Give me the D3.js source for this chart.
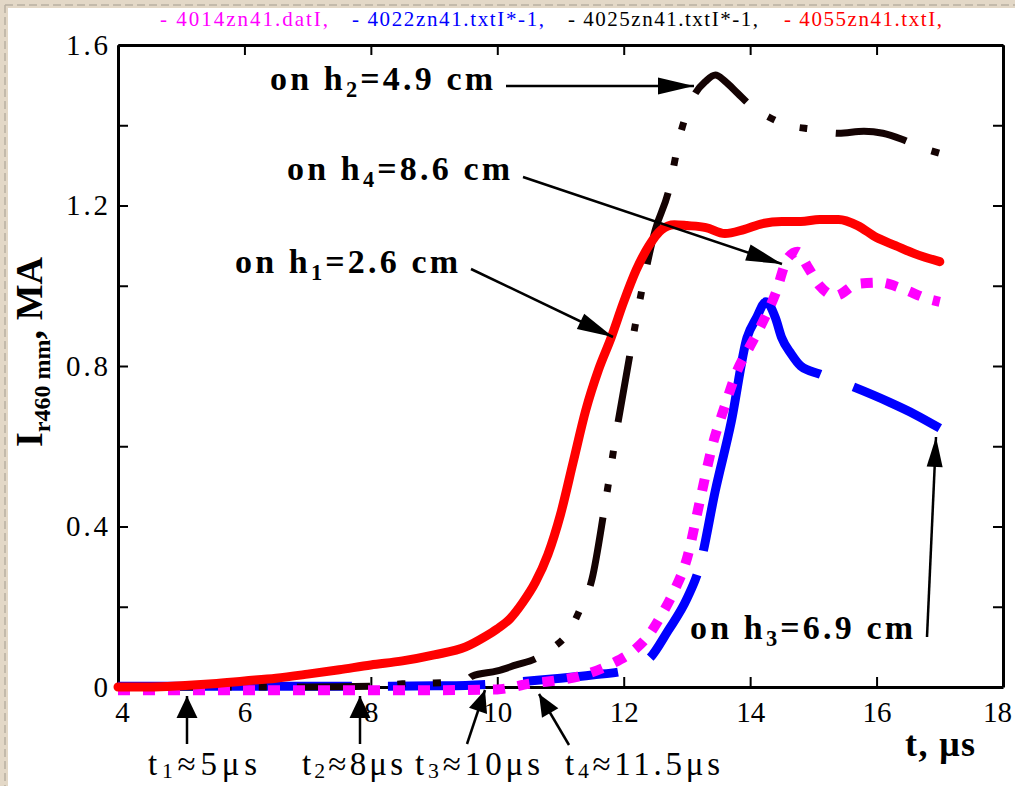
<!DOCTYPE html>
<html><head><meta charset="utf-8">
<script src="https://cdn.jsdelivr.net/npm/d3@7"></script>
<style>
html,body{margin:0;padding:0;background:#fff;}
svg{display:block;}
text{font-family:"Liberation Serif","Times New Roman",serif;}
</style></head>
<body>
<svg id="chart" width="1015" height="786"></svg>
<script>
// ---------------- data ----------------
const legendLabels = ["- 4014zn41.datI,", "- 4022zn41.txtI*-1,", "- 4025zn41.txtI*-1,", "- 4055zn41.txtI,"];

const magentaT = [4, 5, 6, 7, 8, 9, 10, 10.5, 11, 11.3, 11.8, 12.15, 12.4, 12.6, 12.8, 13.0, 13.2, 13.4, 13.6, 13.8, 14.0, 14.2, 14.4, 14.6, 14.75, 14.9, 15.1, 15.35, 15.7, 16.05, 16.4, 16.8, 17];
const magentaV = [-0.008, -0.008, -0.008, -0.008, -0.008, -0.008, -0.006, 0.008, 0.018, 0.027, 0.057, 0.09, 0.13, 0.18, 0.24, 0.32, 0.46, 0.6, 0.7, 0.79, 0.85, 0.91, 0.98, 1.07, 1.085, 1.05, 1.0, 0.975, 1.005, 1.008, 0.993, 0.968, 0.96];

const blueT = [4, 5, 6, 7, 8, 9, 9.5, 10, 10.5, 11, 11.5, 12, 12.4, 12.7, 13.0, 13.2, 13.45, 13.7, 13.95, 14.1, 14.25, 14.4, 14.5, 14.65, 14.8, 15.1, 15.6, 16.2, 16.6, 17];
const blueV = [0.002, 0.002, 0.002, 0.002, 0.002, 0.003, 0.004, 0.008, 0.015, 0.022, 0.03, 0.04, 0.07, 0.14, 0.22, 0.3, 0.49, 0.66, 0.87, 0.92, 0.96, 0.92, 0.87, 0.83, 0.8, 0.78, 0.75, 0.71, 0.68, 0.645];
// visible breaks in the long-dashed blue trace (t intervals)
const blueGaps = [[7.70, 8.27], [9.81, 10.41], [11.91, 12.42], [13.16, 13.26], [15.11, 15.63]];

const blackT = [4, 5, 6, 7, 8, 8.5, 9, 9.5, 9.6, 10, 10.3, 10.6, 10.9, 11.1, 11.3, 11.5, 11.7, 11.9, 12.1, 12.3, 12.5, 12.7, 12.9, 13.1, 13.3, 13.45, 13.6, 13.8, 14.0, 14.3, 14.6, 15.0, 15.4, 15.8, 16.1, 16.4, 16.7, 17];
const blackV = [0, 0, 0, 0, 0.002, 0.008, 0.01, 0.015, 0.027, 0.04, 0.055, 0.07, 0.1, 0.13, 0.19, 0.27, 0.45, 0.65, 0.83, 1.0, 1.14, 1.23, 1.38, 1.47, 1.51, 1.525, 1.51, 1.48, 1.45, 1.42, 1.4, 1.39, 1.38, 1.385, 1.38, 1.365, 1.345, 1.33];
// t where each long dash of the dash-dot-dot black trace begins
const blackDashStarts = [4.1, 6.83, 9.57, 11.47, 11.91, 12.37, 13.13, 15.35];

const redT = [4, 4.5, 5, 5.5, 6, 6.5, 7, 7.5, 8, 8.5, 9, 9.5, 9.8, 10.0, 10.2, 10.4, 10.6, 10.8, 11.0, 11.2, 11.4, 11.6, 11.8, 12.0, 12.2, 12.4, 12.6, 12.8, 13.0, 13.3, 13.6, 13.9, 14.2, 14.5, 14.8, 15.1, 15.4, 15.7, 16, 16.3, 16.6, 17];
const redV = [0, 0, 0.003, 0.008, 0.015, 0.022, 0.032, 0.043, 0.055, 0.065, 0.08, 0.1, 0.125, 0.145, 0.17, 0.21, 0.26, 0.33, 0.43, 0.56, 0.69, 0.79, 0.87, 0.96, 1.04, 1.1, 1.14, 1.152, 1.15, 1.145, 1.13, 1.14, 1.155, 1.16, 1.16, 1.165, 1.165, 1.15, 1.12, 1.1, 1.08, 1.06];

const xTicks = [4, 6, 8, 10, 12, 14, 16, 18];
const yTicks = [0, 0.4, 0.8, 1.2, 1.6];
const yMinorTicks = [0.2, 0.6, 1.0, 1.4];
const yTickLabels = ["0", "0.4", "0.8", "1.2", "1.6"];

const heightLabels = [["on h", "2", "=4.9 cm"], ["on h", "4", "=8.6 cm"], ["on h", "1", "=2.6 cm"], ["on h", "3", "=6.9 cm"]];
const timeLabels = [["t", "1", "≈5μs"], ["t", "2", "≈8μs"], ["t", "3", "≈10μs"], ["t", "4", "≈11.5μs"]];

// ---------------- setup ----------------
const svg = d3.select("#chart");
const W = 1015, H = 786;
const L = 118, R = 1003, T = 45, B = 687;
const x = d3.scaleLinear().domain([4, 18]).range([L, R]);
const y = d3.scaleLinear().domain([0, 1.6]).range([B, T]);

// page frame
svg.append("rect").attr("width", W).attr("height", H).attr("fill", "#e3d8c7");
svg.append("rect").attr("x", 8).attr("y", 8).attr("width", W - 8).attr("height", H - 8).attr("fill", "#fff");
svg.append("line").attr("x1", 5).attr("x2", 5).attr("y1", 5).attr("y2", H)
  .attr("stroke", "#b9b0a2").attr("stroke-width", 1.5).attr("stroke-dasharray", "8,4");
svg.append("line").attr("x1", 5).attr("x2", W).attr("y1", 5).attr("y2", 5)
  .attr("stroke", "#b9b0a2").attr("stroke-width", 1.5).attr("stroke-dasharray", "8,4");

// legend
const legendColors = ["#ff00ff", "#0000ff", "#000000", "#ff0000"];
const legendX = [160, 352, 568, 784];
const legendLen = [168, 192, 190, 158];
svg.append("g").selectAll("text").data(legendLabels).join("text")
  .attr("x", (d, i) => legendX[i]).attr("y", 26)
  .attr("font-size", 21).attr("fill", (d, i) => legendColors[i])
  .attr("textLength", (d, i) => legendLen[i]).attr("lengthAdjust", "spacing")
  .text(d => d);

// ---------------- axes ----------------
const allY = yTicks.concat(yMinorTicks);
function styleAxis(g) {
  g.attr("font-family", null);
  g.select(".domain").attr("stroke", "#000").attr("stroke-width", 3);
  g.selectAll(".tick line").attr("stroke", "#000").attr("stroke-width", 2);
}
const fmtY = v => { const i = yTicks.indexOf(v); return i >= 0 ? yTickLabels[i] : ""; };

const gx = svg.append("g").attr("transform", `translate(0,${B})`)
  .call(d3.axisBottom(x).tickValues(xTicks).tickSizeInner(-10).tickSizeOuter(0).tickPadding(14).tickFormat(d3.format("d")));
styleAxis(gx);
gx.selectAll(".tick text").attr("font-size", 29).attr("fill", "#000")
  .attr("dx", (d) => d === 4 ? 4 : (d === 18 ? -6 : 0));

const gxt = svg.append("g").attr("transform", `translate(0,${T})`)
  .call(d3.axisTop(x).tickValues(xTicks).tickSizeInner(-10).tickSizeOuter(0).tickFormat(""));
styleAxis(gxt);

const gy = svg.append("g").attr("transform", `translate(${L},0)`)
  .call(d3.axisLeft(y).tickValues(allY).tickSizeInner(-10).tickSizeOuter(0).tickPadding(10).tickFormat(fmtY));
styleAxis(gy);
gy.selectAll(".tick text").attr("font-size", 29).attr("fill", "#000")
  .attr("textLength", d => fmtY(d).length > 1 ? 42 : null).attr("lengthAdjust", "spacing");

const gyr = svg.append("g").attr("transform", `translate(${R},0)`)
  .call(d3.axisRight(y).tickValues(allY).tickSizeInner(-10).tickSizeOuter(0).tickFormat(""));
styleAxis(gyr);

// ---------------- series ----------------
const line = d3.line().x(d => x(d[0])).y(d => y(d[1])).curve(d3.curveMonotoneX);
const zip = (a, b) => a.map((t, i) => [t, b[i]]);
const plot = svg.append("g");

function lengthFinder(node) {
  const total = node.getTotalLength();
  return t => {
    const px = x(t); let lo = 0, hi = total;
    for (let k = 0; k < 40; k++) { const m = (lo + hi) / 2; if (node.getPointAtLength(m).x < px) lo = m; else hi = m; }
    return (lo + hi) / 2;
  };
}

const bluePath = plot.append("path").datum(zip(blueT, blueV)).attr("d", line)
  .attr("fill", "none").attr("stroke", "#0000ff").attr("stroke-width", 9);
(function () {
  const node = bluePath.node(), total = node.getTotalLength(), lenAt = lengthFinder(node);
  const cuts = [];
  blueGaps.forEach(g => { cuts.push(lenAt(g[0]), lenAt(g[1])); });
  const dash = []; let prev = 0;
  cuts.forEach(c => { dash.push(Math.max(0.01, c - prev)); prev = c; });
  dash.push(total - prev + 10, 0.01);
  bluePath.attr("stroke-dasharray", dash.join(","));
})();

const blackPath = plot.append("path").datum(zip(blackT, blackV)).attr("d", line)
  .attr("fill", "none").attr("stroke", "#140303").attr("stroke-width", 7);
(function () {
  const node = blackPath.node(), lenAt = lengthFinder(node);
  const unit = [72, 27, 8, 27, 8, 30], period = d3.sum(unit);
  const starts = blackDashStarts.map(lenAt);
  const dash = [0.01, starts[0]];
  starts.forEach((s, i) => {
    const seg = i < starts.length - 1 ? starts[i + 1] - s : period;
    const k = Math.min(1.15, Math.max(0.85, seg / period));
    const scaled = unit.map(u => u * k);
    scaled[5] += seg - d3.sum(scaled);
    scaled.forEach(v => dash.push(Math.max(0.01, v)));
  });
  blackPath.attr("stroke-dasharray", dash.join(","));
})();

plot.append("path").datum(zip(magentaT, magentaV)).attr("d", line)
  .attr("fill", "none").attr("stroke", "#ff00ff").attr("stroke-width", 10)
  .attr("stroke-dasharray", "12,13");

plot.append("path").datum(zip(redT, redV)).attr("d", line)
  .attr("fill", "none").attr("stroke", "#ff0000").attr("stroke-width", 9)
  .attr("stroke-linejoin", "round").attr("stroke-linecap", "round");

// ---------------- annotations ----------------
const ann = svg.append("g");
function arrow(x1, y1, x2, y2, hl, hw) {
  ann.append("line").attr("x1", x1).attr("y1", y1).attr("x2", x2).attr("y2", y2)
    .attr("stroke", "#000").attr("stroke-width", 2.5);
  const a = Math.atan2(y2 - y1, x2 - x1);
  const bx = x2 - hl * Math.cos(a), by = y2 - hl * Math.sin(a);
  const px = -Math.sin(a) * hw / 2, py = Math.cos(a) * hw / 2;
  ann.append("path").attr("d", `M${x2},${y2}L${bx + px},${by + py}L${bx - px},${by - py}Z`).attr("fill", "#000");
}
function subText(xp, yp, parts, size, weight, len, subShift) {
  const t = ann.append("text").attr("x", xp).attr("y", yp).attr("font-size", size).attr("font-weight", weight)
    .attr("fill", "#000");
  if (len) t.attr("textLength", len).attr("lengthAdjust", "spacing");
  t.append("tspan").text(parts[0]);
  t.append("tspan").attr("font-size", size * 0.66).attr("dy", subShift).text(parts[1]);
  t.append("tspan").attr("dy", -subShift).text(parts[2]);
  return t;
}

// height labels
const hPos = [[270, 90], [287, 180], [235, 273], [690, 639]];
heightLabels.forEach((p, i) => subText(hPos[i][0], hPos[i][1], p, 34, "bold", 223, 7));
arrow(506, 86, 694, 86, 36, 17);
arrow(523, 177, 782, 264, 36, 17);
arrow(471, 269, 613, 337, 36, 17);
arrow(927, 637, 936, 437, 30, 16);

// time labels
const tPos = [[148, 775, 109], [302, 775, 101], [415, 775, 125], [565, 775, 155]];
timeLabels.forEach((p, i) => subText(tPos[i][0], tPos[i][1], p, 33, "normal", tPos[i][2], 3));
arrow(187, 744, 187, 696, 22, 21);
arrow(360, 744, 360, 696, 22, 21);
arrow(467, 744, 485, 690, 22, 19);
arrow(569, 745, 539, 694, 22, 19);

// axis titles
ann.append("text").attr("x", 905).attr("y", 756).attr("font-size", 36).attr("font-weight", "bold")
  .attr("textLength", 70).attr("lengthAdjust", "spacing").text("t, μs");

const yl = ann.append("text").attr("transform", "translate(42,447) rotate(-90)")
  .attr("font-size", 38).attr("font-weight", "bold").attr("textLength", 190).attr("lengthAdjust", "spacing");
yl.append("tspan").text("I");
yl.append("tspan").attr("font-size", 24).attr("dy", 8).text("r460 mm");
yl.append("tspan").attr("dy", -8).text(", MA");
</script>
</body></html>
